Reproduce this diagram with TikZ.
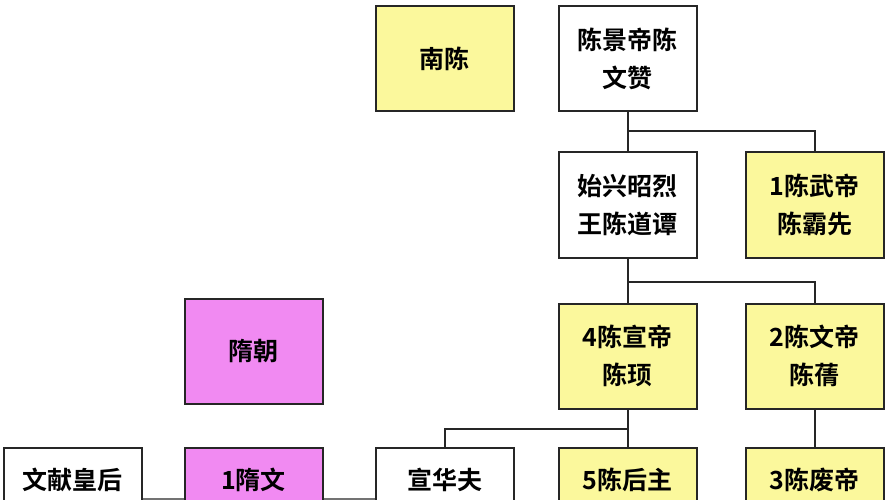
\documentclass[tikz,border=0pt]{standalone}
\usepackage{fontspec}
\newfontfamily\cjk{Noto Sans CJK SC Bold}
\definecolor{yel}{HTML}{FBF89C}
\definecolor{pnk}{HTML}{F18AF2}
\begin{document}
\begin{tikzpicture}[x=1pt,y=-1pt,
 box/.style={draw=black!85,line width=2pt,minimum width=138pt,minimum height=105pt,align=center,font=\cjk\fontsize{25}{38}\selectfont,inner sep=0pt},
 yb/.style={box,fill=yel}, pb/.style={box,fill=pnk}, wb/.style={box,fill=white},
 ln/.style={line width=2pt,draw=black!85}]
\useasboundingbox (0,0) rectangle (892,500);
\node[yb] (nc) at (444.5,59) {南陈};
\node[wb] (jd) at (627.5,59) {陈景帝陈\\文赞};
\node[wb] (sx) at (627.5,205) {始兴昭烈\\王陈道谭};
\node[yb] (wd) at (814.5,205) {1陈武帝\\陈霸先};
\node[pb] (sc) at (253.5,351) {隋朝};
\node[yb] (xd) at (627.5,356) {4陈宣帝\\陈顼};
\node[yb] (wen) at (814.5,356) {2陈文帝\\陈蒨};
\node[wb,anchor=north] (wx) at (72.5,447) {文献皇后\\[6pt]};
\node[pb,anchor=north] (sw) at (253.5,447) {1隋文\\[6pt]};
\node[wb,anchor=north] (xh) at (444.5,447) {宣华夫\\[6pt]};
\node[yb,anchor=north] (hz) at (627.5,447) {5陈后主\\[6pt]};
\node[yb,anchor=north] (fd) at (814.5,447) {3陈废帝\\[6pt]};
\draw[ln] (jd.south) -- (sx.north);
\draw[ln] (jd.south) ++(0,19) -| (wd.north);
\draw[ln] (sx.south) -- (xd.north);
\draw[ln] (sx.south) ++(0,23) -| (wen.north);
\draw[ln] (xd.south) -- (hz.north);
\draw[ln] (xd.south) ++(0,19) -| (xh.north);
\draw[ln] (wen.south) -- (fd.north);
\draw[ln,draw=black!55] ([yshift=2pt]wx.east) -- ([yshift=2pt]sw.west);
\draw[ln,draw=black!55] ([yshift=2pt]sw.east) -- ([yshift=2pt]xh.west);
\end{tikzpicture}
\end{document}
